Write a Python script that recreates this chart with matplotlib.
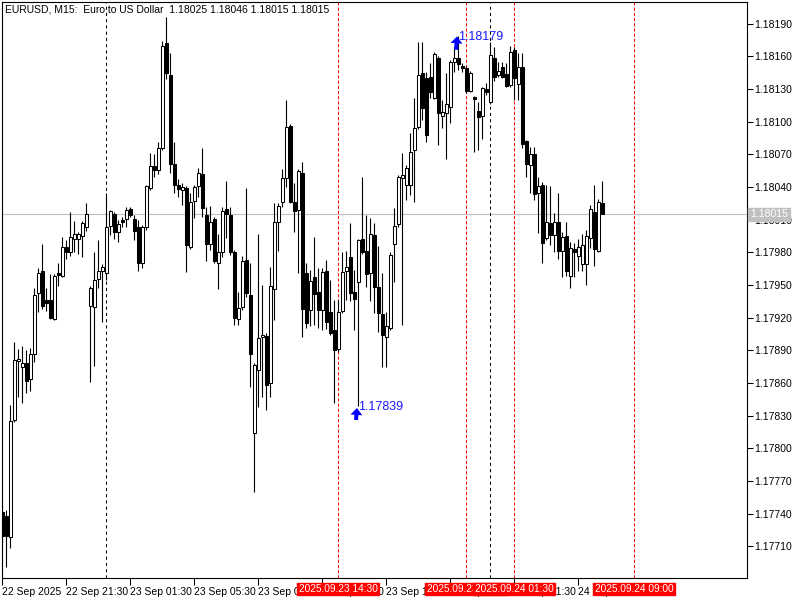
import pandas as pd
import numpy as np
import matplotlib
matplotlib.use('Agg')
import matplotlib.pyplot as plt

# EURUSD M15, first visible bar 2025.09.22 17:30
start_time = '2025-09-22 17:30'

opens = [1.17742, 1.17738, 1.17719, 1.17826, 1.17880, 1.17875, 1.17878, 1.17864, 1.17887, 1.17943,
         1.17963, 1.17936, 1.17936, 1.17919, 1.17961, 1.17958, 1.17985, 1.17980, 1.17992, 1.17992,
         1.17995, 1.18003, 1.17931, 1.17930, 1.17956, 1.17963, 1.17961, 1.18004, 1.18015, 1.17999,
         1.18010, 1.18011, 1.18020, 1.18011, 1.18003, 1.17970, 1.18003, 1.18039, 1.18059, 1.18056,
         1.18076, 1.18172, 1.18143, 1.18061, 1.18042, 1.18037, 1.18039, 1.17985, 1.18027, 1.18041,
         1.18052, 1.18014, 1.17988, 1.18011, 1.17970, 1.17980, 1.18020, 1.18014, 1.17980, 1.17919,
         1.17930, 1.17973, 1.17941, 1.17814, 1.17872, 1.17902, 1.17903, 1.17860, 1.17946, 1.18008,
         1.18026, 1.18048, 1.18096, 1.18026, 1.18019, 1.18053, 1.17961, 1.17927, 1.17957, 1.17944,
         1.17927, 1.17963, 1.17925, 1.17909, 1.17891, 1.17926, 1.17963, 1.17976, 1.17944, 1.17953,
         1.17992, 1.17981, 1.17961, 1.17996, 1.17948, 1.17923, 1.17902, 1.17911, 1.17988, 1.18006,
         1.18048, 1.18042, 1.18042, 1.18074, 1.18095, 1.18145, 1.18140, 1.18141, 1.18122, 1.18159,
         1.18105, 1.18108, 1.18114, 1.18155, 1.18159, 1.18151, 1.18149, 1.18128, 1.18123, 1.18110,
         1.18105, 1.18130, 1.18118, 1.18159, 1.18143, 1.18150, 1.18144, 1.18134, 1.18166, 1.18135,
         1.18150, 1.18082, 1.18060, 1.18070, 1.18035, 1.18042, 1.17993, 1.18007, 1.17996, 1.18008,
         1.17981, 1.17995, 1.17958, 1.17983, 1.17977, 1.17969, 1.17969, 1.17993, 1.18017, 1.17981,
         1.18025]
highs = [1.17748, 1.17743, 1.17840, 1.17898, 1.17891, 1.17894, 1.17890, 1.17892, 1.17947, 1.17966,
         1.17988, 1.17947, 1.17960, 1.17960, 1.17970, 1.17994, 1.17991, 1.18017, 1.18009, 1.17999,
         1.18009, 1.18025, 1.17949, 1.17980, 1.17991, 1.17969, 1.18035, 1.18019, 1.18017, 1.18010,
         1.18013, 1.18022, 1.18022, 1.18014, 1.18010, 1.18005, 1.18042, 1.18071, 1.18070, 1.18081,
         1.18174, 1.18196, 1.18163, 1.18081, 1.18047, 1.18044, 1.18041, 1.18035, 1.18042, 1.18058,
         1.18076, 1.18022, 1.18023, 1.18013, 1.17997, 1.18022, 1.18046, 1.18022, 1.17982, 1.17944,
         1.17977, 1.18039, 1.17970, 1.17878, 1.17997, 1.17950, 1.17906, 1.17967, 1.18025, 1.18025,
         1.18057, 1.18120, 1.18098, 1.18044, 1.18057, 1.18063, 1.17970, 1.17964, 1.17994, 1.17966,
         1.17966, 1.17973, 1.17955, 1.17936, 1.17936, 1.17980, 1.17981, 1.18007, 1.17964, 1.17992,
         1.18049, 1.18014, 1.18012, 1.18007, 1.17986, 1.17961, 1.17925, 1.17980, 1.18021, 1.18051,
         1.18071, 1.18060, 1.18090, 1.18122, 1.18173, 1.18173, 1.18146, 1.18154, 1.18164, 1.18160,
         1.18120, 1.18145, 1.18157, 1.18169, 1.18179, 1.18154, 1.18151, 1.18147, 1.18124, 1.18118,
         1.18132, 1.18136, 1.18173, 1.18169, 1.18155, 1.18155, 1.18154, 1.18170, 1.18169, 1.18163,
         1.18163, 1.18083, 1.18077, 1.18077, 1.18049, 1.18045, 1.18042, 1.18041, 1.18016, 1.18035,
         1.17999, 1.18008, 1.17990, 1.17989, 1.17992, 1.17997, 1.18001, 1.18024, 1.18042, 1.18029,
         1.18046]
lows = [1.17711, 1.17691, 1.17709, 1.17824, 1.17847, 1.17842, 1.17851, 1.17853, 1.17879, 1.17925,
        1.17928, 1.17926, 1.17919, 1.17918, 1.17949, 1.17957, 1.17974, 1.17977, 1.17980, 1.17979,
        1.17976, 1.18000, 1.17861, 1.17876, 1.17947, 1.17916, 1.17955, 1.17996, 1.17992, 1.17990,
        1.18003, 1.18003, 1.18013, 1.17991, 1.17963, 1.17966, 1.18001, 1.18037, 1.18049, 1.18052,
        1.18074, 1.18139, 1.18053, 1.18035, 1.18031, 1.18024, 1.17962, 1.17983, 1.18012, 1.18031,
        1.18013, 1.17972, 1.17982, 1.17970, 1.17946, 1.17976, 1.17993, 1.17978, 1.17913, 1.17913,
        1.17927, 1.17939, 1.17856, 1.17760, 1.17838, 1.17847, 1.17835, 1.17847, 1.17918, 1.17981,
        1.18022, 1.18040, 1.18025, 1.17999, 1.17961, 1.17902, 1.17911, 1.17912, 1.17913, 1.17911,
        1.17909, 1.17910, 1.17904, 1.17842, 1.17889, 1.17924, 1.17936, 1.17935, 1.17909, 1.17839,
        1.17979, 1.17948, 1.17935, 1.17924, 1.17907, 1.17875, 1.17875, 1.17909, 1.17953, 1.18003,
        1.17913, 1.18028, 1.18033, 1.18026, 1.18093, 1.18102, 1.18081, 1.18122, 1.18121, 1.18079,
        1.18094, 1.18066, 1.18099, 1.18146, 1.18148, 1.18146, 1.18126, 1.18127, 1.18072, 1.18074,
        1.18084, 1.18125, 1.18116, 1.18137, 1.18141, 1.18140, 1.18132, 1.18132, 1.18120, 1.18120,
        1.18076, 1.18049, 1.18035, 1.18028, 1.17998, 1.17970, 1.17991, 1.17987, 1.17980, 1.17974,
        1.17957, 1.17958, 1.17947, 1.17957, 1.17963, 1.17963, 1.17950, 1.17984, 1.17968, 1.17980,
        1.18015]
closes = [1.17720, 1.17720, 1.17825, 1.17881, 1.17882, 1.17878, 1.17862, 1.17887, 1.17941, 1.17961,
          1.17931, 1.17934, 1.17920, 1.17958, 1.17959, 1.17985, 1.17980, 1.17994, 1.17997, 1.17997,
          1.18007, 1.18015, 1.17947, 1.17955, 1.17963, 1.17967, 1.18003, 1.18018, 1.17999, 1.18006,
          1.18008, 1.18019, 1.18014, 1.18000, 1.17970, 1.18003, 1.18041, 1.18059, 1.18056, 1.18076,
          1.18170, 1.18145, 1.18061, 1.18042, 1.18038, 1.18040, 1.17987, 1.18026, 1.18040, 1.18053,
          1.18021, 1.17988, 1.18008, 1.17972, 1.17980, 1.18018, 1.18015, 1.17980, 1.17920, 1.17929,
          1.17972, 1.17943, 1.17887, 1.17877, 1.17901, 1.17904, 1.17858, 1.17949, 1.18008, 1.18023,
          1.18048, 1.18095, 1.18026, 1.18018, 1.18055, 1.17928, 1.17915, 1.17954, 1.17942, 1.17927,
          1.17962, 1.17916, 1.17906, 1.17890, 1.17925, 1.17962, 1.17967, 1.17943, 1.17937, 1.17991,
          1.17980, 1.17960, 1.17997, 1.17948, 1.17924, 1.17904, 1.17912, 1.17978, 1.18004, 1.18049,
          1.18051, 1.18058, 1.18072, 1.18094, 1.18143, 1.18113, 1.18088, 1.18127, 1.18162, 1.18108,
          1.18109, 1.18116, 1.18155, 1.18159, 1.18153, 1.18149, 1.18128, 1.18145, 1.18121, 1.18104,
          1.18131, 1.18127, 1.18161, 1.18141, 1.18147, 1.18141, 1.18133, 1.18164, 1.18140, 1.18150,
          1.18080, 1.18061, 1.18070, 1.18034, 1.18041, 1.17989, 1.18008, 1.17996, 1.18008, 1.17981,
          1.17994, 1.17963, 1.17984, 1.17980, 1.17985, 1.17987, 1.17995, 1.18020, 1.17983, 1.18026,
          1.18015]

price_labels = ['1.17710', '1.17740', '1.17770', '1.17800', '1.17830', '1.17860', '1.17890',
                '1.17920', '1.17950', '1.17980', '1.18010', '1.18040', '1.18070', '1.18100',
                '1.18130', '1.18160', '1.18190']

# vertical lines drawn on the chart
red_lines = ['2025-09-23 14:30', '2025-09-23 22:30', '2025-09-24 01:30', '2025-09-24 09:00']
separators = ['2025-09-23 00:00', '2025-09-24 00:00']
# range used for the high/low marks
mark_from, mark_to = '2025-09-23 14:30', '2025-09-23 22:30'

times = pd.date_range(start_time, periods=len(opens), freq='15min')
t0 = times[0]


def bar_index(t):
    return (pd.Timestamp(t) - t0) / pd.Timedelta('15min')


o = np.array(opens)
h = np.array(highs)
l = np.array(lows)
c = np.array(closes)
x = np.arange(len(o))

plt.rcParams['font.family'] = ['Liberation Sans', 'DejaVu Sans']
fig = plt.figure(figsize=(8, 6), dpi=100)
ax = fig.add_axes([2 / 800, 22 / 600, 745 / 800, 576 / 600])
ax.set_xlim(-0.08, 186.2)
ax.set_ylim(1.17681, 1.18210)

# current price line
ax.axhline(c[-1], color='#c0c0c0', lw=0.8, zorder=1)

# period separators and red lines
for t in separators:
    ax.axvline(bar_index(t), color='black', lw=0.75, ls=(0, (3, 3)), zorder=1.5)
for t in red_lines:
    ax.axvline(bar_index(t), color='red', lw=0.75, ls=(0, (3, 2)), zorder=1.5)

# candles
ax.vlines(x, l, h, color='black', lw=0.8, zorder=2)
up = c >= o
down = ~up
ax.bar(x[up], c[up] - o[up], bottom=o[up], width=0.68, color='white',
       edgecolor='black', linewidth=0.75, zorder=3)
ax.bar(x[down], o[down] - c[down], bottom=c[down], width=0.68, color='black',
       edgecolor='black', linewidth=0.75, zorder=3)

# high / low marks
i0 = int(bar_index(mark_from))
i1 = int(bar_index(mark_to)) + 1
hi = i0 + int(np.argmax(h[i0:i1]))
lo = i0 + int(np.argmin(l[i0:i1]))
arrow_style = 'simple,head_length=0.55,head_width=0.95,tail_width=0.32'
for idx, price, gap in [(hi, h[hi], 0.5), (lo, l[lo], 1.5)]:
    ax.annotate('', xy=(idx - 0.3, price), xytext=(-1, -14), textcoords='offset pixels',
                annotation_clip=False,
                arrowprops=dict(arrowstyle=arrow_style, color='blue', lw=0,
                                mutation_scale=9, shrinkA=0, shrinkB=gap),
                zorder=6)
    ax.annotate(f'{price:.5f}', xy=(idx, price), xytext=(0, -1), textcoords='offset pixels',
                color='#1a1aff', fontsize=9, ha='left', va='center', zorder=6)

# price axis on the right
ax.yaxis.tick_right()
ax.set_yticks([float(p) for p in price_labels])
ax.set_yticklabels(price_labels)
ax.tick_params(axis='y', direction='out', length=4, width=0.75, labelsize=7.5, pad=1.5)

# time axis
tick_idx = list(range(0, len(o), 16))
tick_txt = []
for i in tick_idx:
    if i == 0:
        tick_txt.append(times[i].strftime('%d %b %Y'))
    else:
        tick_txt.append(times[i].strftime('%d %b %H:%M'))
ax.set_xticks(tick_idx)
ax.set_xticklabels(tick_txt, ha='left')
ax.tick_params(axis='x', direction='out', length=5, width=0.75, labelsize=7.5, pad=1.5)

for s in ax.spines.values():
    s.set_linewidth(0.8)

# red date labels on the time axis
for t in red_lines:
    lab = pd.Timestamp(t).strftime('%Y.%m.%d %H:%M')
    ax.text(bar_index(t), -0.019, lab, transform=ax.get_xaxis_transform(),
            ha='center', va='center', color='white', fontsize=7.3, zorder=10,
            clip_on=False, bbox=dict(facecolor='red', edgecolor='red', pad=1.0))

# current price label
ax.text(1.004, c[-1], f'{c[-1]:.5f}', transform=ax.get_yaxis_transform(),
        ha='left', va='center', color='white', fontsize=7.5, zorder=10, clip_on=False,
        bbox=dict(facecolor='#c0c0c0', edgecolor='#c0c0c0', pad=1.2))

# header
fig.text(5 / 800, 1 - 9 / 600,
         f'EURUSD, M15:  Euro to US Dollar  {o[-1]:.5f} {h[-1]:.5f} {l[-1]:.5f} {c[-1]:.5f}',
         ha='left', va='center', fontsize=7.5)

fig.savefig('out.png', dpi=100)
